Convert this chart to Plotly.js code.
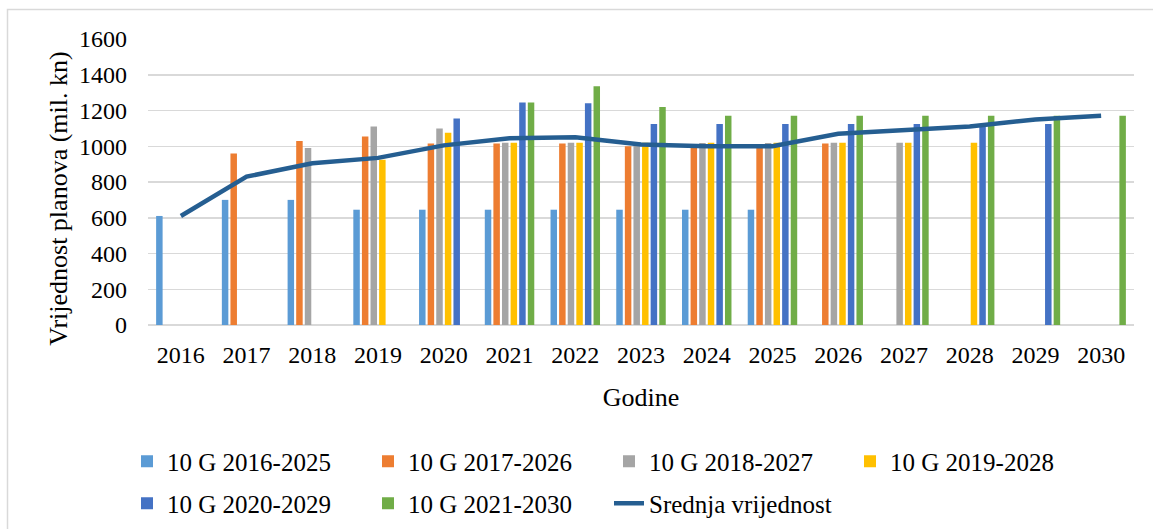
<!DOCTYPE html>
<html>
<head>
<meta charset="utf-8">
<script src="https://cdn.plot.ly/plotly-3.0.1.min.js"></script>
<style>
  html, body { margin: 0; padding: 0; background: #fff; }
  #chart { width: 1153px; height: 529px; }
</style>
</head>
<body>
<div id="chart"></div>
<script>
const years = ['2016','2017','2018','2019','2020','2021','2022','2023','2024','2025','2026','2027','2028','2029','2030'];
const seriesNames = ['10 G 2016-2025','10 G 2017-2026','10 G 2018-2027','10 G 2019-2028','10 G 2020-2029','10 G 2021-2030'];
const plan2016 = [610, 700, 700, 645, 645, 645, 645, 645, 645, 645, null, null, null, null, null];
const plan2017 = [null, 960, 1030, 1055, 1015, 1015, 1015, 1000, 1000, 1000, 1015, null, null, null, null];
const plan2018 = [null, null, 990, 1110, 1100, 1020, 1020, 1018, 1018, 1018, 1020, 1020, null, null, null];
const plan2019 = [null, null, null, 925, 1075, 1020, 1020, 1020, 1020, 1020, 1020, 1020, 1020, null, null];
const plan2020 = [null, null, null, null, 1155, 1245, 1240, 1125, 1125, 1125, 1125, 1125, 1125, 1125, null];
const plan2021 = [null, null, null, null, null, 1245, 1335, 1220, 1170, 1170, 1170, 1170, 1170, 1170, 1170];
const meanName = 'Srednja vrijednost';
const meanValues = [610, 830, 905, 935, 1005, 1045, 1050, 1010, 1000, 1000, 1070, 1090, 1110, 1150, 1170];
const yTicks = [0, 200, 400, 600, 800, 1000, 1200, 1400, 1600];

const colors = ['#5B9BD5', '#ED7D31', '#A5A5A5', '#FFC000', '#4472C4', '#70AD47'];
const allSeries = [plan2016, plan2017, plan2018, plan2019, plan2020, plan2021];

const FONT = 'Liberation Serif, Times New Roman, serif';

const traces = allSeries.map((vals, i) => ({
  type: 'bar',
  name: seriesNames[i],
  x: years,
  y: vals,
  marker: { color: colors[i], line: { width: 0 } },
  legend: i < 4 ? 'legend' : 'legend2',
  hoverinfo: 'skip'
}));
traces.push({
  type: 'scatter',
  mode: 'lines',
  name: meanName,
  x: years,
  y: meanValues,
  line: { color: '#255E91', width: 4.5 },
  legend: 'legend2',
  hoverinfo: 'skip'
});

// plot area in pixels
const L = 148, R = 1134, T = 39, B = 325.3;
const W = 1153, H = 529;
const px2x = p => (p - L) / (R - L);
const py2y = p => (B - p) / (B - T);

const legendCommon = {
  orientation: 'h',
  xanchor: 'left',
  yanchor: 'middle',
  entrywidth: 196,
  entrywidthmode: 'pixels',
  font: { family: FONT, size: 25, color: '#000' },
  bgcolor: 'rgba(0,0,0,0)',
  traceorder: 'normal'
};

const layout = {
  width: W,
  height: H,
  margin: { l: L, r: W - R, t: T, b: H - B, autoexpand: false },
  paper_bgcolor: '#fff',
  plot_bgcolor: '#fff',
  barmode: 'group',
  bargap: 0.215,
  bargroupgap: 0.245,
  showlegend: true,
  legend: Object.assign({}, legendCommon, { x: px2x(127), y: py2y(462) }),
  legend2: Object.assign({}, legendCommon, { x: px2x(127), y: py2y(504) }),
  xaxis: {
    type: 'category',
    tickfont: { family: FONT, size: 24, color: '#000' },
    showgrid: false,
    showline: false,
    zeroline: false,
    ticks: '',
    ticklabelstandoff: 13,
    automargin: false,
    title: { text: 'Godine', font: { family: FONT, size: 26, color: '#000' }, standoff: 20 }
  },
  yaxis: {
    range: [0, 1600],
    tickvals: yTicks,
    tickfont: { family: FONT, size: 24, color: '#000' },
    showgrid: true,
    gridcolor: '#D9D9D9',
    gridwidth: 1.5,
    zeroline: true,
    zerolinecolor: '#D9D9D9',
    zerolinewidth: 1.5,
    showline: false,
    ticks: '',
    automargin: false,
    ticklabelstandoff: 20
  },
  annotations: [{
    text: 'Vrijednost planova (mil. kn)',
    xref: 'paper', yref: 'paper',
    x: px2x(59), y: py2y(199),
    xanchor: 'center', yanchor: 'middle',
    textangle: -90,
    showarrow: false,
    font: { family: FONT, size: 26, color: '#000' }
  }],
  shapes: [{
    type: 'rect', xref: 'paper', yref: 'paper',
    x0: px2x(7.5), x1: px2x(1170), y0: py2y(9.5), y1: py2y(560),
    line: { color: '#D9D9D9', width: 1.5 },
    fillcolor: 'rgba(0,0,0,0)',
    layer: 'below'
  }]
};

Plotly.newPlot('chart', traces, layout, { displayModeBar: false, staticPlot: true });
</script>
</body>
</html>
